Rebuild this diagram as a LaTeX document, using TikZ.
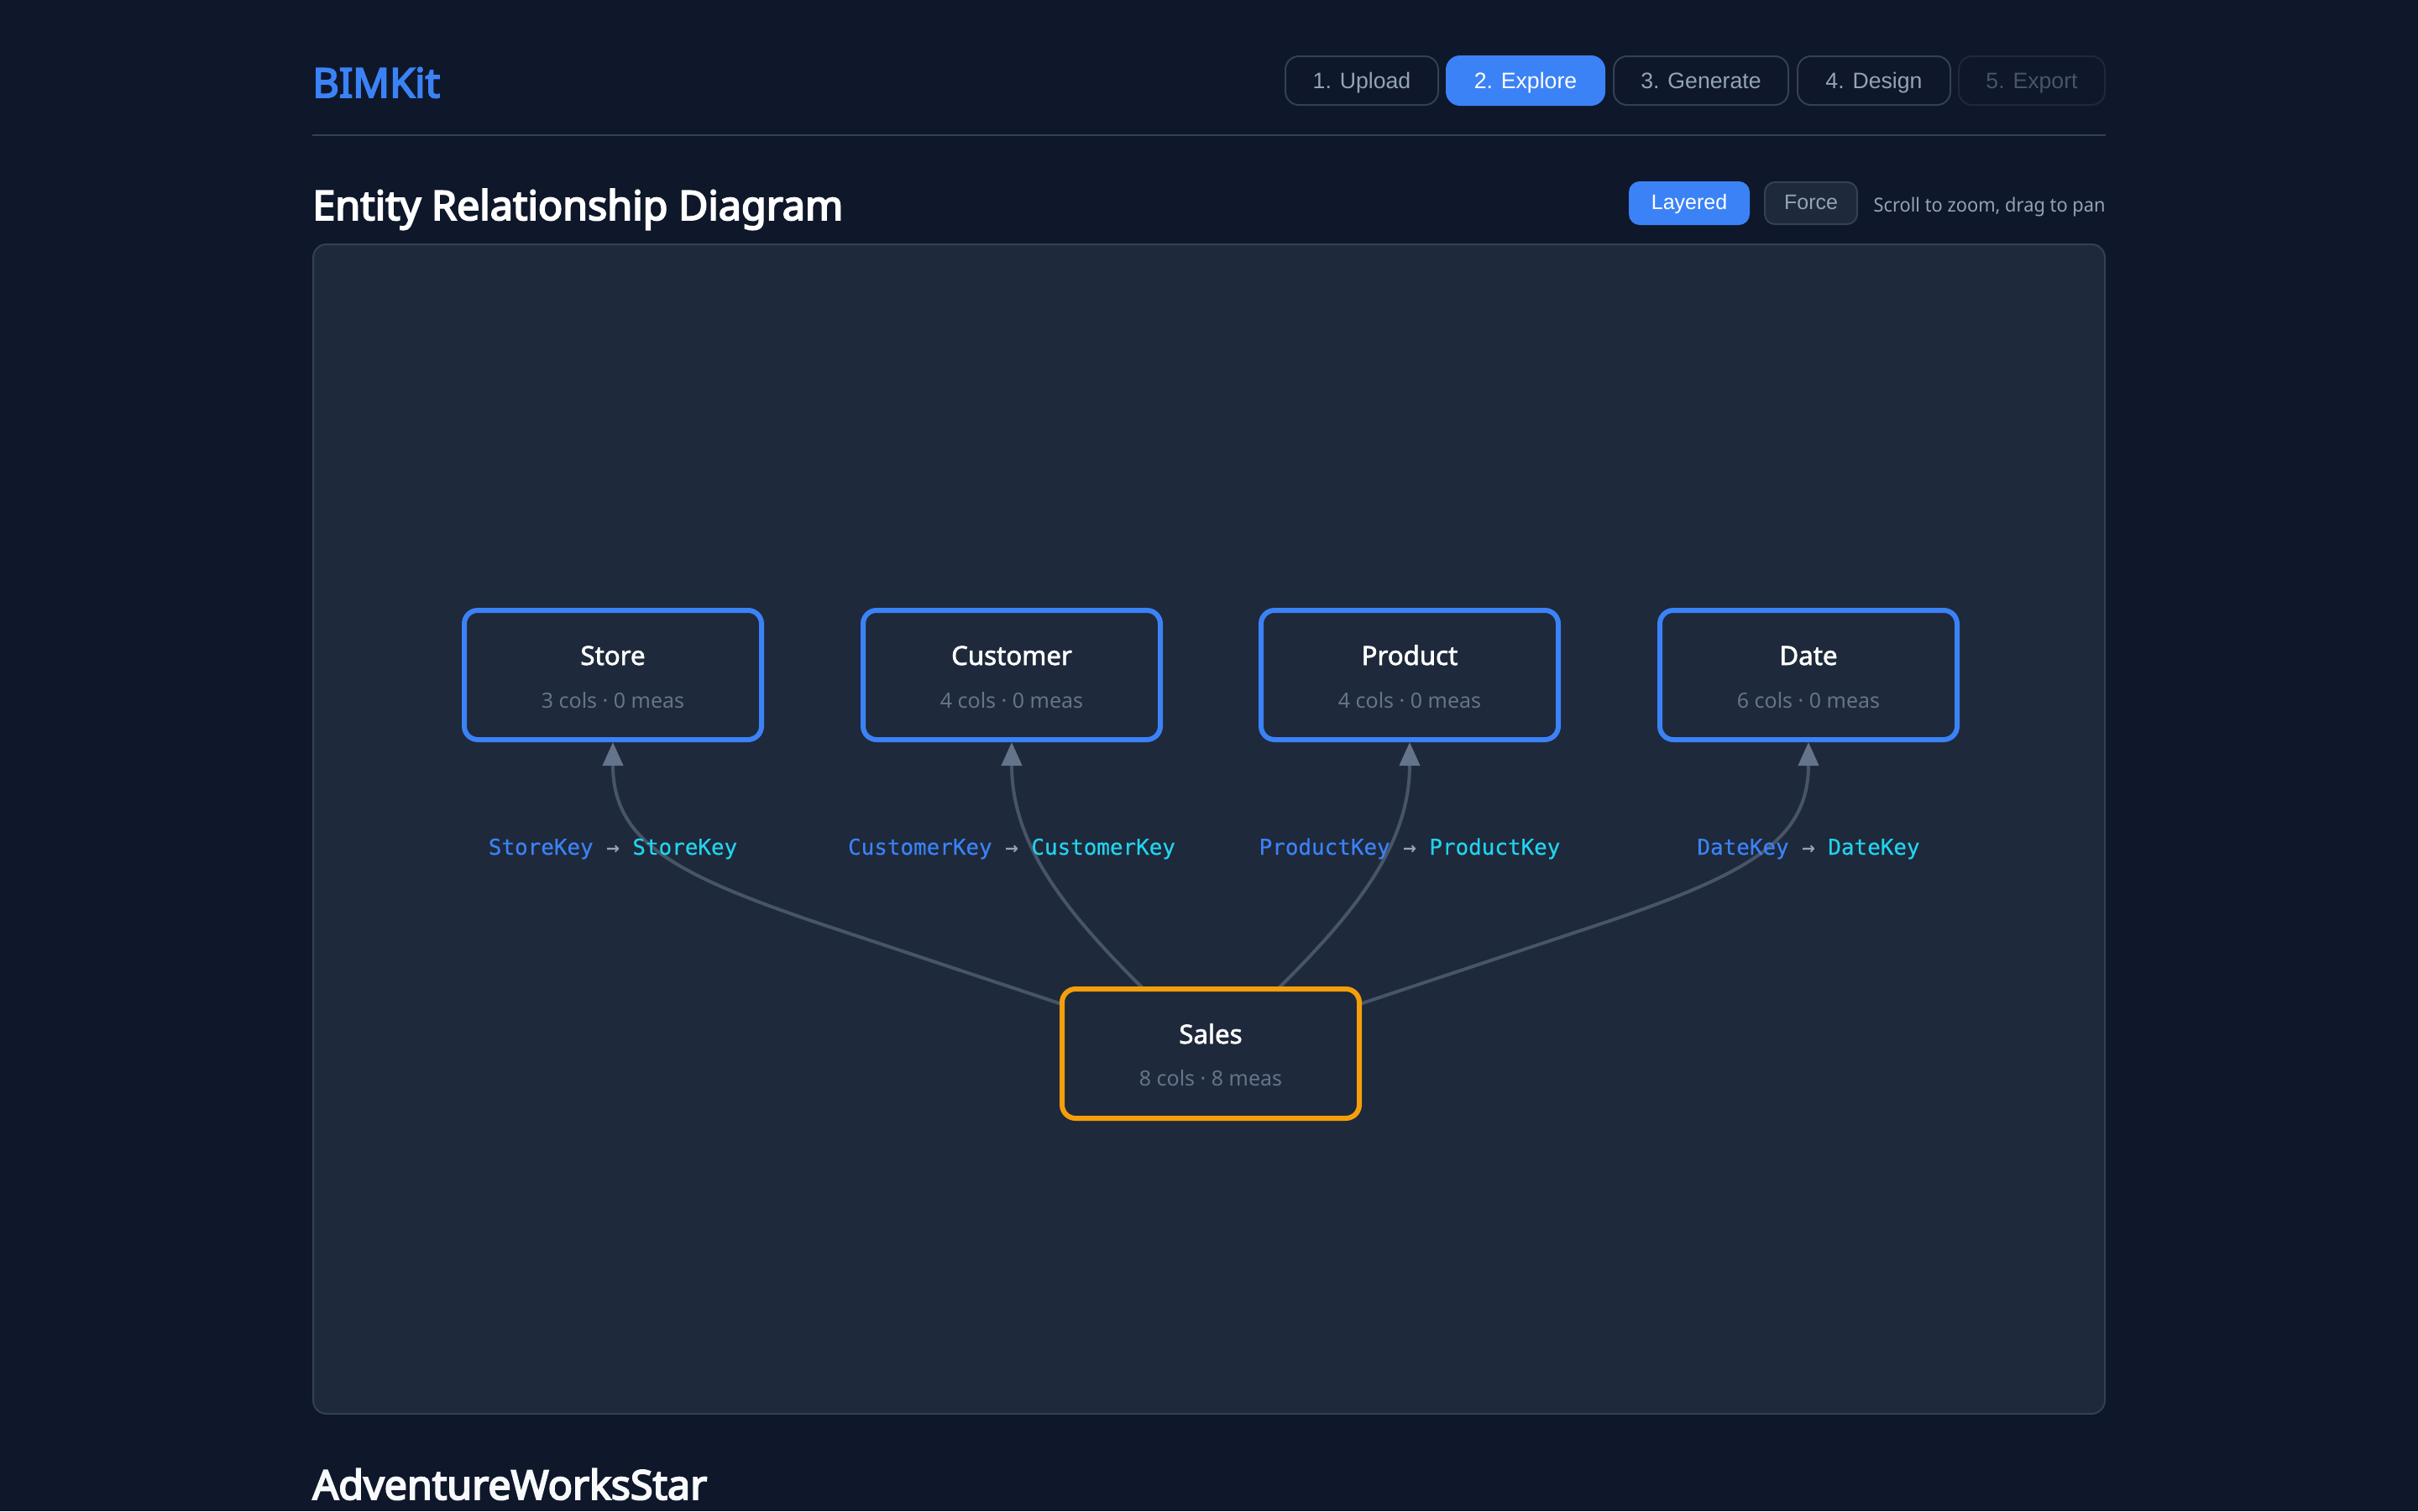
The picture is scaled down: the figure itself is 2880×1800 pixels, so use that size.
\documentclass[tikz,border=0pt]{standalone}
\usepackage{fontspec}
\usetikzlibrary{arrows.meta}
\setmainfont{Noto Sans}
\newfontfamily\headf[FakeBold=4]{Noto Sans}
\newfontfamily\titlef[FakeBold=2]{Noto Sans}
\newfontfamily\hintf[FakeStretch=0.95]{Noto Sans}
\newfontfamily\arialf{Liberation Sans}
\newfontfamily\monof[FakeBold=0.4]{DejaVu Sans Mono}
\definecolor{pagebg}{HTML}{0F172A}
\definecolor{panelbg}{HTML}{1E293B}
\definecolor{bordc}{HTML}{334155}
\definecolor{blue1}{HTML}{3B82F6}
\definecolor{cyan1}{HTML}{22D3EE}
\definecolor{amber1}{HTML}{F59E0B}
\definecolor{mutedc}{HTML}{94A3B8}
\definecolor{subc}{HTML}{64748B}
\definecolor{edgec}{HTML}{475569}
\definecolor{offc}{HTML}{F8FAFC}
\pgfdeclarelayer{edges}
\pgfdeclarelayer{back}
\pgfsetlayers{back,edges,main}
\tikzset{
  entity/.style={draw=blue1,line width=3pt,fill=panelbg,rounded corners=8pt,minimum width=177pt,minimum height=77pt,inner sep=0pt,outer sep=1.5pt},
  fact/.style={entity,draw=amber1},
  etitle/.style={anchor=base,inner sep=0pt,text=white,font=\titlef\fontsize{15.6pt}{18pt}\selectfont},
  esub/.style={anchor=base,inner sep=0pt,text=subc,font=\fontsize{12.5pt}{16pt}\selectfont},
  keylabel/.style={anchor=base,inner sep=0pt,font=\monof\fontsize{12.95pt}{16pt}\selectfont},
  edge/.style={draw=edgec,line width=2pt,-{Triangle[width=12pt,length=14pt,color=subc]}},
  stepbtn/.style={draw=bordc,line width=1pt,rounded corners=8pt,minimum height=29pt,inner xsep=0pt,inner ysep=0pt,text height=9pt,text depth=0pt,text=mutedc,fill=pagebg,font=\arialf\fontsize{13.33pt}{16pt}\selectfont},
  stepon/.style={stepbtn,draw=blue1,fill=blue1,text=white},
  stepoff/.style={stepbtn,draw=panelbg,text=edgec},
  togglebtn/.style={draw=bordc,line width=1pt,rounded corners=6pt,minimum height=25pt,inner xsep=0pt,inner ysep=0pt,text height=7pt,text depth=0pt,text=mutedc,fill=panelbg,font=\arialf\fontsize{12.5pt}{15pt}\selectfont},
  toggleon/.style={togglebtn,draw=blue1,fill=blue1,text=white},
  heading/.style={anchor=base west,inner sep=0pt,font=\headf\fontsize{24.2pt}{28pt}\selectfont},
}
\begin{document}
\begin{tikzpicture}[x=0.5pt,y=-0.5pt]
\useasboundingbox (0,0) rectangle (2880,1800);
\begin{pgfonlayer}{back}
\fill[pagebg] (0,0) rectangle (2880,1800);
\draw[bordc,line width=1pt,fill=panelbg,rounded corners=8pt] (373,291) rectangle (2507,1684);
\draw[bordc,line width=1pt] (372,161) -- (2508,161);
\end{pgfonlayer}
\node[heading,text=blue1] (brand) at (372,116) {BIMKit};
\node[heading,text=white] (erd) at (372,262) {Entity Relationship Diagram};
\node[heading,text=offc] (model) at (372,1786) {AdventureWorksStar};
\node[stepbtn,minimum width=91pt] (s1) at (1622,96) {1. Upload};
\node[stepon,minimum width=94pt] (s2) at (1817,96) {2. Explore};
\node[stepbtn,minimum width=104pt] (s3) at (2026,96) {3. Generate};
\node[stepbtn,minimum width=91pt] (s4) at (2232,96) {4. Design};
\node[stepoff,minimum width=87pt] (s5) at (2420,96) {5. Export};
\node[toggleon,minimum width=71pt] (layered) at (2012,242) {Layered};
\node[togglebtn,minimum width=55pt] (force) at (2157,242) {Force};
\node[anchor=base east,inner sep=0pt,text=mutedc,font=\hintf\fontsize{11.5pt}{14pt}\selectfont] (hint) at (2508,252) {Scroll to zoom, drag to pan};
\node[entity] (store) at (730,804) {};
\node[entity] (customer) at (1205,804) {};
\node[entity] (product) at (1679,804) {};
\node[entity] (date) at (2154,804) {};
\node[fact] (sales) at (1442,1255) {};
\node[etitle] (t1) at (730,792) {Store};
\node[esub] (u1) at (730,843) {3 cols · 0 meas};
\node[etitle] (t2) at (1205,792) {Customer};
\node[esub] (u2) at (1205,843) {4 cols · 0 meas};
\node[etitle] (t3) at (1679,792) {Product};
\node[esub] (u3) at (1679,843) {4 cols · 0 meas};
\node[etitle] (t4) at (2154,792) {Date};
\node[esub] (u4) at (2154,843) {6 cols · 0 meas};
\node[etitle] (t5) at (1442,1243) {Sales};
\node[esub] (u5) at (1442,1293) {8 cols · 8 meas};
\begin{pgfonlayer}{edges}
\draw[edge] (sales.center) -- (970,1098) .. controls (800,1040) and (730,1000) .. (store.south);
\draw[edge] (sales.center) .. controls (1305,1125) and (1205,1030) .. (customer.south);
\draw[edge] (sales.center) .. controls (1579,1125) and (1679,1030) .. (product.south);
\draw[edge] (sales.center) -- (1914,1098) .. controls (2084,1040) and (2154,1000) .. (date.south);
\end{pgfonlayer}
\node[keylabel] (k1) at (730,1018) {\textcolor{blue1}{StoreKey} \textcolor{mutedc}{→} \textcolor{cyan1}{StoreKey}};
\node[keylabel] (k2) at (1205,1018) {\textcolor{blue1}{CustomerKey} \textcolor{mutedc}{→} \textcolor{cyan1}{CustomerKey}};
\node[keylabel] (k3) at (1679,1018) {\textcolor{blue1}{ProductKey} \textcolor{mutedc}{→} \textcolor{cyan1}{ProductKey}};
\node[keylabel] (k4) at (2154,1018) {\textcolor{blue1}{DateKey} \textcolor{mutedc}{→} \textcolor{cyan1}{DateKey}};
\end{tikzpicture}
\end{document}
